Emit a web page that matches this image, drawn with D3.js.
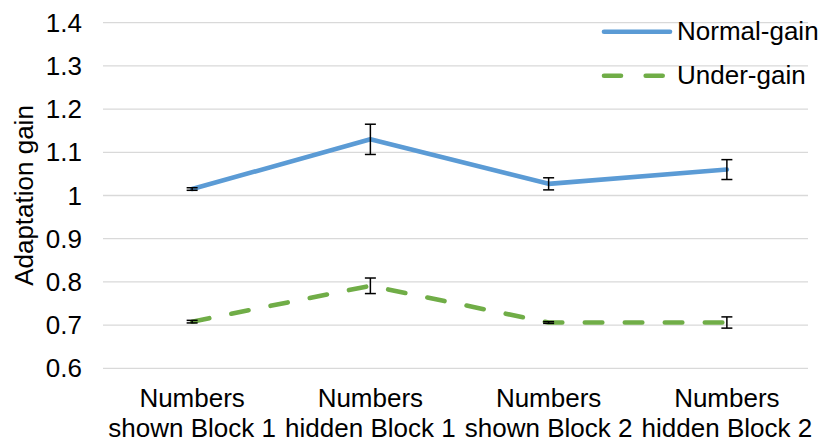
<!DOCTYPE html>
<html>
<head>
<meta charset="utf-8">
<script src="https://cdn.jsdelivr.net/npm/d3@7"></script>
<style>
  html, body { margin: 0; padding: 0; background: #fff; }
  svg text { font-family: "Liberation Sans", Arial, sans-serif; fill: #000; }
</style>
</head>
<body>
<svg id="chart" width="822" height="446"></svg>
<script>
// Conditions along the x axis (two-line labels)
const categories = [
  ["Numbers", "shown Block 1"],
  ["Numbers", "hidden Block 1"],
  ["Numbers", "shown Block 2"],
  ["Numbers", "hidden Block 2"]
];
const seriesNames = ["Normal-gain", "Under-gain"];
const normalGain = [1.015, 1.130, 1.027, 1.060];
const normalErr  = [0.003, 0.035, 0.014, 0.023];
const underGain  = [0.708, 0.791, 0.706, 0.706];
const underErr   = [0.003, 0.018, 0.002, 0.013];
const yTicks = [0.6, 0.7, 0.8, 0.9, 1.0, 1.1, 1.2, 1.3, 1.4];

const svg = d3.select("#chart");
const margin = { left: 103, right: 6, top: 22.7, bottom: 77.7 };
const W = 822, H = 446;
const FS = 26;

const x = d3.scaleBand()
  .domain(d3.range(categories.length))
  .range([margin.left, W - margin.right]);
const y = d3.scaleLinear()
  .domain([0.6, 1.4])
  .range([H - margin.bottom, margin.top]);

// Horizontal gridlines
svg.append("g")
  .selectAll("line")
  .data(yTicks)
  .join("line")
  .attr("x1", margin.left)
  .attr("x2", W - margin.right - 8)
  .attr("y1", d => y(d))
  .attr("y2", d => y(d))
  .attr("stroke", "#d9d9d9")
  .attr("stroke-width", 1.3);

// Y tick labels
svg.append("g")
  .selectAll("text")
  .data(yTicks)
  .join("text")
  .attr("x", 82)
  .attr("y", d => y(d))
  .attr("dy", "0.35em")
  .attr("text-anchor", "end")
  .attr("font-size", FS)
  .text(d => d3.format("~g")(d));

// Y axis title
svg.append("text")
  .attr("transform", `translate(33,${(y(0.6) + y(1.4)) / 2}) rotate(-90)`)
  .attr("text-anchor", "middle")
  .attr("font-size", FS)
  .text("Adaptation gain");

// X category labels
const cx = i => x(i) + x.bandwidth() / 2;
const xl = svg.append("g")
  .selectAll("text")
  .data(categories)
  .join("text")
  .attr("text-anchor", "middle")
  .attr("font-size", FS);
xl.append("tspan").attr("y", 407).attr("x", (d, i) => cx(i)).text(d => d[0]);
xl.append("tspan").attr("y", 437).attr("x", (d, i) => cx(i)).text(d => d[1]);

const line = d3.line().x((d, i) => cx(i)).y(d => y(d));

const series = [
  { name: seriesNames[0], values: normalGain, err: normalErr, color: "#5b9bd5", dash: null },
  { name: seriesNames[1], values: underGain, err: underErr, color: "#70ad47", dash: "17.5 22.5" }
];

series.forEach(s => {
  svg.append("path")
    .datum(s.values)
    .attr("d", line)
    .attr("fill", "none")
    .attr("stroke", s.color)
    .attr("stroke-width", 4.6)
    .attr("stroke-linecap", "round")
    .attr("stroke-linejoin", "round")
    .attr("stroke-dasharray", s.dash);
});

// Error bars
series.forEach(s => {
  const g = svg.append("g").attr("stroke", "#000").attr("stroke-width", 1.5);
  s.values.forEach((v, i) => {
    const x0 = cx(i), yt = y(v + s.err[i]), yb = y(v - s.err[i]);
    g.append("line").attr("x1", x0).attr("x2", x0).attr("y1", yt).attr("y2", yb);
    g.append("line").attr("x1", x0 - 5.5).attr("x2", x0 + 5.5).attr("y1", yt).attr("y2", yt);
    g.append("line").attr("x1", x0 - 5.5).attr("x2", x0 + 5.5).attr("y1", yb).attr("y2", yb);
  });
});

// Legend
const legend = svg.append("g");
series.forEach((s, i) => {
  const ly = 31.7 + i * 44;
  legend.append("line")
    .attr("x1", 604).attr("x2", 670)
    .attr("y1", ly).attr("y2", ly)
    .attr("stroke", s.color)
    .attr("stroke-width", 4.6)
    .attr("stroke-linecap", "round")
    .attr("stroke-dasharray", s.dash ? "17 24.7" : null);
  legend.append("text")
    .attr("x", 677).attr("y", ly + 8.5)
    .attr("font-size", FS)
    .text(s.name);
});
</script>
</body>
</html>
